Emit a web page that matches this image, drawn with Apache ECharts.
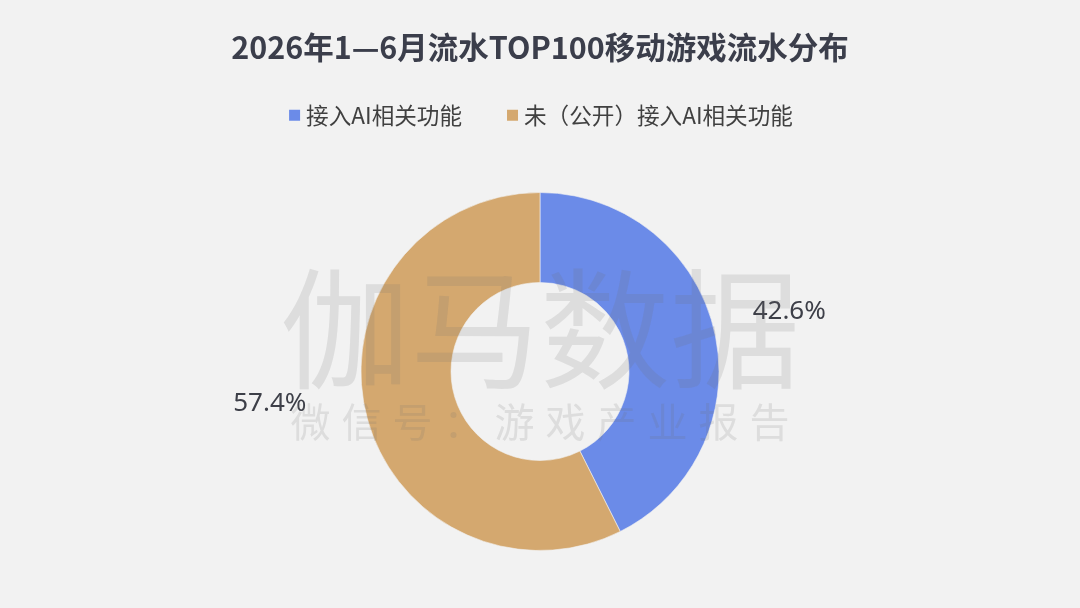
<!DOCTYPE html>
<html>
<head>
<meta charset="utf-8">
<script src="https://cdn.jsdelivr.net/npm/echarts@6/dist/echarts.min.js"></script>
<style>
  html, body { margin: 0; padding: 0; background: #f2f2f2; }
  #chart { width: 1080px; height: 608px; }
</style>
</head>
<body>
<div id="chart"></div>
<script>
const titleText = '2026年1—6月流水TOP100移动游戏流水分布';
const categories = ['接入AI相关功能', '未（公开）接入AI相关功能'];
const shares = [42.6, 57.4];
const colors = ['#6b8be8', '#d4a86f'];
const watermarkMain = '伽马数据';
const watermarkSub = '微信号：游戏产业报告';

const chart = echarts.init(document.getElementById('chart'));

const subChars = watermarkSub.split('');
const subStride = 51;
const subGraphics = subChars.map((ch, i) => ({
  type: 'text',
  x: 540 + (i - (subChars.length - 1) / 2) * subStride,
  y: 422,
  z: 100,
  silent: true,
  style: {
    text: ch,
    fontSize: 40,
    fontFamily: 'Noto Sans CJK SC',
    fill: 'rgba(110,110,110,0.16)',
    align: 'center',
    verticalAlign: 'middle'
  }
}));

const option = {
  backgroundColor: '#f2f2f2',
  title: {
    text: titleText,
    left: 'center',
    top: 27,
    textStyle: {
      fontFamily: 'Noto Sans CJK SC',
      fontSize: 30.5,
      fontWeight: 'bold',
      color: '#3b3e4b'
    }
  },
  legend: {
    top: 99,
    left: 'center',
    icon: 'rect',
    itemWidth: 13,
    itemHeight: 13,
    itemGap: 43,
    textStyle: {
      fontFamily: 'Noto Sans CJK SC',
      fontSize: 22.6,
      color: '#404040'
    },
    data: categories
  },
  graphic: [
    {
      type: 'text',
      x: 540,
      y: 329,
      z: 100,
      silent: true,
      style: {
        text: watermarkMain,
        fontSize: 130,
        fontFamily: 'Noto Sans CJK SC',
        fill: 'rgba(110,110,110,0.16)',
        align: 'center',
        verticalAlign: 'middle'
      }
    }
  ].concat(subGraphics),
  series: [
    {
      type: 'pie',
      center: [540, 371.5],
      radius: [89, 179],
      startAngle: 90,
      clockwise: true,
      avoidLabelOverlap: false,
      itemStyle: { borderColor: '#f2f2f2', borderWidth: 0.6 },
      label: {
        show: true,
        position: 'outside',
        fontFamily: 'Noto Sans',
        fontSize: 26,
        color: '#3d3f48',
        formatter: p => p.value.toFixed(1) + '%'
      },
      labelLine: { show: false, length: 20, length2: 14 },
      labelLayout: p => (p.dataIndex === 1 ? { dx: -21, dy: -14 } : { dy: -14 }),
      emphasis: { disabled: true },
      data: categories.map((name, i) => ({
        name: name,
        value: shares[i],
        itemStyle: { color: colors[i] }
      }))
    }
  ]
};
chart.setOption(option);
</script>
</body>
</html>
